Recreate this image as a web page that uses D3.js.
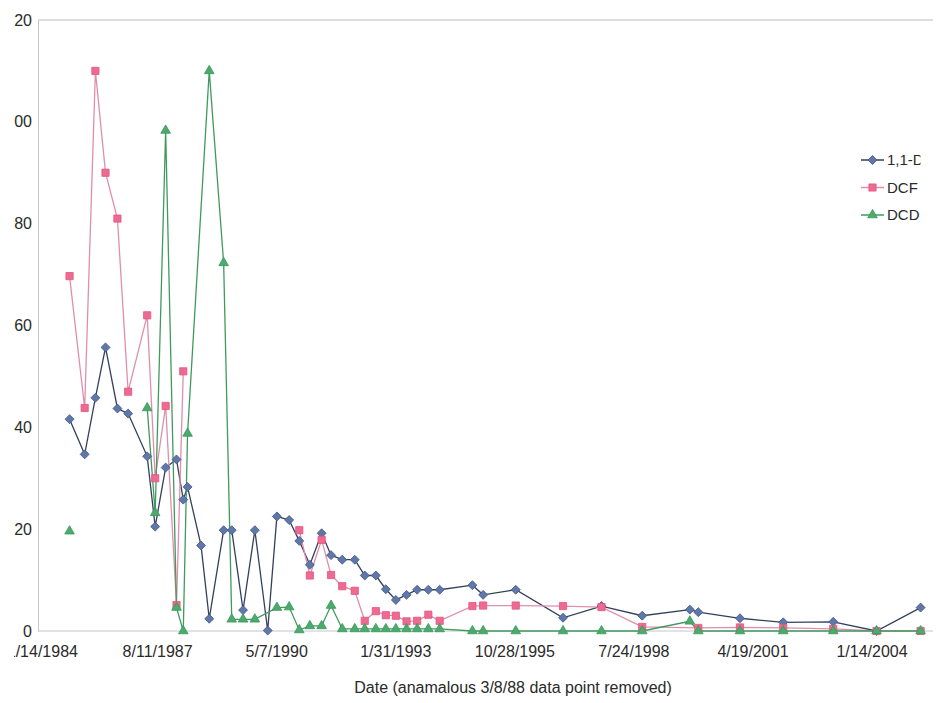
<!DOCTYPE html>
<html>
<head>
<meta charset="utf-8">
<script src="https://cdn.jsdelivr.net/npm/d3@7"></script>
<style>
  html, body { margin: 0; padding: 0; background: #ffffff; }
  svg { display: block; }
  text { font-family: Arial, "Liberation Sans", sans-serif; fill: #2a2a2a; }
</style>
</head>
<body>
<svg id="chart" width="940" height="703"></svg>
<script>
// Sampling dates (monitoring events)
const sampleDates = [
  "1985-08-06", "1985-12-11", "1986-03-11", "1986-06-04", "1986-09-12", "1986-12-11",
  "1987-05-20", "1987-07-26", "1987-10-22", "1988-01-21", "1988-03-18", "1988-04-23",
  "1988-08-14", "1988-10-22", "1989-02-20", "1989-04-29", "1989-08-02", "1989-11-09",
  "1990-02-25", "1990-05-13", "1990-08-24", "1990-11-17", "1991-02-14", "1991-05-24",
  "1991-08-11", "1991-11-13", "1992-02-26", "1992-05-20", "1992-08-21", "1992-11-13",
  "1993-02-05", "1993-05-06", "1993-08-03", "1993-11-05", "1994-02-08", "1994-11-10",
  "1995-02-08", "1995-11-09", "1996-12-10", "1997-10-29", "1998-10-06", "1999-11-10",
  "2000-01-20", "2001-01-04", "2002-01-02", "2003-02-26", "2004-02-25", "2005-03-01"
];

// 1,1-DCE : every sampling event
const dceIdx = sampleDates.map((d, i) => i);
const dceValues = [
  41.6, 34.7, 45.8, 55.7, 43.7, 42.7, 34.3, 20.5, 32.1, 33.7, 25.8, 28.3,
  16.8, 2.4, 19.8, 19.8, 4.1, 19.8, 0.1, 22.5, 21.8, 17.7, 13.0, 19.2,
  14.9, 14.0, 14.0, 10.9, 10.9, 8.2, 6.1, 7.1, 8.1, 8.1, 8.1, 9.0,
  7.1, 8.1, 2.6, 4.9, 3.0, 4.2, 3.7, 2.5, 1.7, 1.8, 0, 4.6
];

// DCF : null marks a blank cell (line break)
const dcfIdx = [0, 1, 2, 3, 4, 5, 6, 7, 8, 9, 10, 11,
  21, 22, 23, 24, 25, 26, 27, 28, 29, 30, 31, 32, 33, 34, 35, 36, 37, 38, 39, 40,
  42, 43, 44, 45, 46, 47];
const dcfValues = [69.7, 43.8, 110, 90, 81, 47, 62, 30, 44.2, 5.1, 51, null,
  19.8, 10.9, 17.9, 11.0, 8.8, 7.9, 2.0, 3.9, 3.1, 3.0, 1.9, 2.0, 3.2, 2.0, 4.9, 5.0, 5.0, 4.9, 4.7, 0.8,
  0.6, 0.7, 0.6, 0.4, 0, 0];

// DCD
const dcdIdx = [0, 1, 6, 7, 8, 9, 10, 11, 13, 14, 15, 16, 17,
  19, 20, 21, 22, 23, 24, 25, 26, 27, 28, 29, 30, 31, 32, 33, 34,
  35, 36, 37, 38, 39, 40, 41, 42, 43, 44, 45, 46, 47];
const dcdValues = [19.6, null, 43.8, 23.2, 98.3, 4.6, 0, 38.8, 110, 72.3, 2.3, 2.3, 2.3,
  4.6, 4.7, 0.2, 1.0, 1.0, 5.0, 0.4, 0.4, 0.4, 0.4, 0.4, 0.4, 0.4, 0.4, 0.4, 0.4,
  0, 0, 0, 0, 0, 0, 1.9, 0, 0, 0, 0, 0, 0];

const seriesNames = ["1,1-DCE", "DCF", "DCD"];
const xTickLabels = ["11/14/1984", "8/11/1987", "5/7/1990", "1/31/1993",
  "10/28/1995", "7/24/1998", "4/19/2001", "1/14/2004"];
const yTickValues = [0, 20, 40, 60, 80, 100, 120];
const xDomain = ["1984-11-14", "2005-06-13"];
const yDomain = [0, 120];
const xTitle = "Date (anamalous 3/8/88 data point removed)";

const parseISO = d3.timeParse("%Y-%m-%d");
const parseUS = d3.timeParse("%m/%d/%Y");
const fmtUS = d3.timeFormat("%-m/%-d/%Y");

const W = 940, H = 703;
const plot = { left: 38, right: 933, top: 20, bottom: 631 };

const svg = d3.select("#chart");
svg.append("rect").attr("width", W).attr("height", H).attr("fill", "#ffffff");

// The sheet edges trim the outermost labels
const clipL = 14, clipR = 920.5;
svg.append("defs").append("clipPath").attr("id", "pageClip")
  .append("rect").attr("x", clipL).attr("y", 0).attr("width", clipR - clipL).attr("height", H);
const root = svg.append("g").attr("clip-path", "url(#pageClip)");
// plot lines and marks run past the legend's trimmed edge
const plotLayer = svg.append("g");

const x = d3.scaleTime().domain(xDomain.map(parseISO)).range([plot.left, plot.right]);
const y = d3.scaleLinear().domain(yDomain).range([plot.bottom, plot.top]);

// plot frame: top border
plotLayer.append("line")
  .attr("x1", plot.left).attr("x2", plot.right)
  .attr("y1", plot.top).attr("y2", plot.top)
  .attr("stroke", "#b9bcc6").attr("stroke-width", 1);

// y axis
const yAxis = d3.axisLeft(y).tickValues(yTickValues).tickSize(0).tickPadding(6);
const gy = root.append("g").attr("transform", `translate(${plot.left},0)`).call(yAxis);
gy.select(".domain").attr("stroke", "#c4c6ce");
gy.selectAll("text").attr("font-size", 16).attr("fill", "#333333")
  .attr("font-family", "Arial, 'Liberation Sans', sans-serif");

// x axis
const xTicks = xTickLabels.map(parseUS);
const xAxis = d3.axisBottom(x).tickValues(xTicks).tickFormat(fmtUS).tickSize(0).tickPadding(15);
const gx = root.append("g").attr("transform", `translate(0,${plot.bottom})`).call(xAxis);
gx.select(".domain").remove();
gx.selectAll("text").attr("font-size", 16).attr("fill", "#333333")
  .attr("font-family", "Arial, 'Liberation Sans', sans-serif");
plotLayer.append("line")
  .attr("x1", plot.left).attr("x2", plot.right)
  .attr("y1", plot.bottom).attr("y2", plot.bottom)
  .attr("stroke", "#c4c6ce").attr("stroke-width", 1);

root.append("text")
  .attr("x", 513).attr("y", 693)
  .attr("text-anchor", "middle")
  .attr("font-size", 16)
  .text(xTitle);

// series
const mk = (idx, vals) => idx.map((k, i) => ({ date: parseISO(sampleDates[k]), v: vals[i] }));
const series = [
  { name: seriesNames[0], data: mk(dceIdx, dceValues), line: "#333f5c", fill: "#5f77a9", stroke: "#44598a", shape: "diamond" },
  { name: seriesNames[1], data: mk(dcfIdx, dcfValues), line: "#e08eab", fill: "#ef6a92", stroke: "#e0557f", shape: "square" },
  { name: seriesNames[2], data: mk(dcdIdx, dcdValues), line: "#3f9a5f", fill: "#4cab6c", stroke: "#3a955a", shape: "triangle" }
];

const symbolPath = shape => {
  if (shape === "diamond") return d3.symbol(d3.symbolSquare, 40)();
  if (shape === "square") return d3.symbol(d3.symbolSquare, 52)();
  return d3.symbol(d3.symbolTriangle, 40)();
};
const symbolRot = shape => shape === "diamond" ? " rotate(45)" : "";

const lineGen = d3.line()
  .defined(d => d.v !== null)
  .x(d => x(d.date))
  .y(d => y(d.v));

series.forEach(s => {
  plotLayer.append("path")
    .datum(s.data)
    .attr("fill", "none")
    .attr("stroke", s.line)
    .attr("stroke-width", 1.3)
    .attr("d", lineGen);
});

series.forEach(s => {
  plotLayer.append("g").selectAll("path")
    .data(s.data.filter(d => d.v !== null))
    .join("path")
    .attr("d", symbolPath(s.shape))
    .attr("transform", d => `translate(${x(d.date)},${y(d.v)})${symbolRot(s.shape)}`)
    .attr("fill", s.fill)
    .attr("stroke", s.stroke)
    .attr("stroke-width", 0.8);
});

// legend
const legend = root.append("g");
series.forEach((s, i) => {
  const ly = 160 + i * 27.5;
  const g = legend.append("g").attr("transform", `translate(0,${ly})`);
  g.append("line").attr("x1", 861).attr("x2", 884).attr("y1", 0).attr("y2", 0)
    .attr("stroke", s.line).attr("stroke-width", 1.3);
  g.append("path").attr("d", symbolPath(s.shape))
    .attr("transform", `translate(872.5,0)${symbolRot(s.shape)}`)
    .attr("fill", s.fill).attr("stroke", s.stroke).attr("stroke-width", 0.8);
  g.append("text").attr("x", 887).attr("y", 0).attr("dy", "0.35em")
    .attr("font-size", 15).text(s.name);
});
</script>
</body>
</html>
